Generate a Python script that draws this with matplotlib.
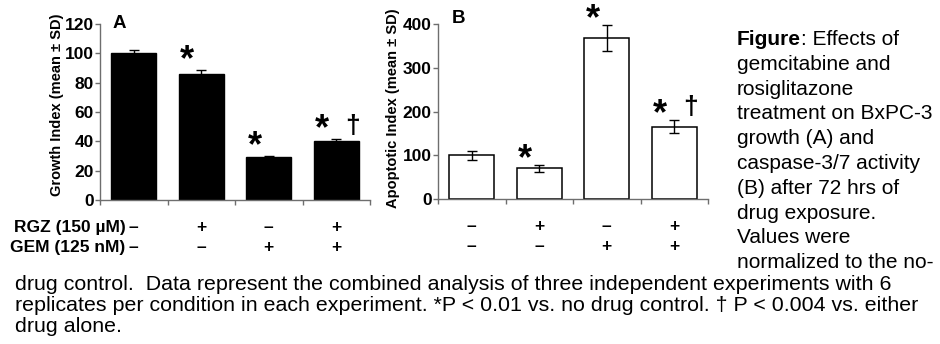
import numpy as np
import matplotlib
matplotlib.use("Agg")
import matplotlib.pyplot as plt
import matplotlib.transforms as mtransforms

plt.rcParams['font.family'] = ['Liberation Sans', 'DejaVu Sans']

# data
groups = ["ctrl", "RGZ", "GEM", "RGZ+GEM"]
rgz_signs = ["\u2013", "+", "\u2013", "+"]
gem_signs = ["\u2013", "\u2013", "+", "+"]

growth_mean = [100, 86, 29, 40]
growth_sd = [2, 2.5, 1, 1.5]
growth_star = [False, True, True, True]
growth_dagger = [False, False, False, True]

apopt_mean = [100, 71, 368, 166]
apopt_sd = [10, 8, 30, 15]
apopt_star = [False, True, True, True]
apopt_dagger = [False, False, False, True]

W, H = 940, 344


def fx(x):
    return x / W


def fy(y):
    return 1 - y / H


fig = plt.figure(figsize=(9.4, 3.44), dpi=100)
axA = fig.add_axes([fx(100), fy(200), fx(270), 176 / H])
axB = fig.add_axes([fx(438), fy(199.3), fx(270), 175.3 / H])

x = np.arange(len(groups))
grey = "#6e6e6e"


def style_axis(ax, ymax, step):
    ax.set_xlim(-0.5, 3.5)
    ax.set_ylim(0, ymax)
    ax.set_yticks(np.arange(0, ymax + 1, step))
    ax.set_xticks(np.arange(-0.5, 3.6, 1))
    ax.set_xticklabels([])
    for s in ["top", "right"]:
        ax.spines[s].set_visible(False)
    for s in ["left", "bottom"]:
        ax.spines[s].set_color(grey)
        ax.spines[s].set_linewidth(1)
    ax.tick_params(axis="y", length=3.5, width=1, color=grey, pad=1,
                   labelsize=12.5)
    ax.tick_params(axis="x", length=3.5, width=1, color=grey)
    for t in ax.get_yticklabels():
        t.set_fontweight("bold")
    ax.patch.set_visible(False)


def annotate_marks(ax, means, sds, stars, daggers, star_dy):
    for xi, m, s, st, dg in zip(x, means, sds, stars, daggers):
        if st:
            ax.annotate("*", xy=(xi, m + s), xytext=(-10, star_dy),
                        textcoords="offset points", ha="center", va="bottom",
                        fontsize=26, fontweight="bold", annotation_clip=False)
        if dg:
            ax.annotate("\u2020", xy=(xi, m + s), xytext=(12, 1),
                        textcoords="offset points", ha="center", va="bottom",
                        fontsize=19, fontweight="bold")


def sign_rows(ax, with_labels):
    trans = mtransforms.blended_transform_factory(ax.transData, ax.transAxes)
    rows = [(-0.155, rgz_signs, "RGZ (150 \u00b5M)"),
            (-0.272, gem_signs, "GEM (125 nM)")]
    for yy, signs, label in rows:
        for xi, sg in zip(x, signs):
            ax.text(xi, yy, sg, transform=trans, ha="center", va="center",
                    fontsize=12.5, fontweight="bold")
        if with_labels:
            ax.annotate(label, xy=(0, yy), xycoords=trans, xytext=(-6, 0),
                        textcoords="offset points", ha="right", va="center",
                        fontsize=12.5, fontweight="bold",
                        annotation_clip=False)


# panel A
axA.bar(x, growth_mean, width=0.67, color="black", edgecolor="black",
        linewidth=1, zorder=2)
axA.errorbar(x, growth_mean, yerr=growth_sd, fmt="none", ecolor="black",
             elinewidth=1, capsize=3.5, capthick=1, zorder=1)
style_axis(axA, 120, 20)
annotate_marks(axA, growth_mean, growth_sd, growth_star, growth_dagger, -6)
sign_rows(axA, True)
axA.set_ylabel("Growth Index (mean \u00b1 SD)", fontsize=10.5,
               fontweight="bold")
axA.yaxis.set_label_coords(-0.135, 0.54)
axA.text(0.048, 1.0, "A", transform=axA.transAxes, fontsize=13.5,
         fontweight="bold", va="center", ha="left")

# panel B
axB.bar(x, apopt_mean, width=0.67, color="white", edgecolor="black",
        linewidth=1.1, zorder=2)
axB.errorbar(x, apopt_mean, yerr=apopt_sd, fmt="none", ecolor="black",
             elinewidth=1, capsize=3.5, capthick=1, zorder=3)
style_axis(axB, 400, 100)
annotate_marks(axB, apopt_mean, apopt_sd, apopt_star, apopt_dagger, -9)
sign_rows(axB, False)
axB.set_ylabel("Apoptotic Index (mean \u00b1 SD)", fontsize=10.5,
               fontweight="bold")
axB.yaxis.set_label_coords(-0.142, 0.52)
axB.text(0.052, 1.03, "B", transform=axB.transAxes, fontsize=13.5,
         fontweight="bold", va="center", ha="left")

# caption, right column
side_lines = ["gemcitabine and", "rosiglitazone", "treatment on BxPC-3",
              "growth (A) and", "caspase-3/7 activity", "(B) after 72 hrs of",
              "drug exposure.", "Values were", "normalized to the no-"]
cap_size = 15
t0 = fig.text(fx(737), fy(45), "Figure", fontsize=cap_size,
              fontweight="bold", va="baseline", ha="left")
axA.annotate(": Effects of", xy=(1, 0), xycoords=t0, va="bottom", ha="left",
             fontsize=cap_size, annotation_clip=False)
for i, line in enumerate(side_lines):
    fig.text(fx(737), fy(45 + 24.8 * (i + 1)), line, fontsize=cap_size,
             va="baseline", ha="left")

# caption, bottom
bottom_lines = [
    "drug control.  Data represent the combined analysis of three independent experiments with 6",
    "replicates per condition in each experiment. *P < 0.01 vs. no drug control. \u2020 P < 0.004 vs. either",
    "drug alone.",
]
for i, line in enumerate(bottom_lines):
    fig.text(fx(15), fy(289.5 + 21.3 * i), line, fontsize=15.4,
             va="baseline", ha="left")

fig.savefig("out.png", dpi=100)
